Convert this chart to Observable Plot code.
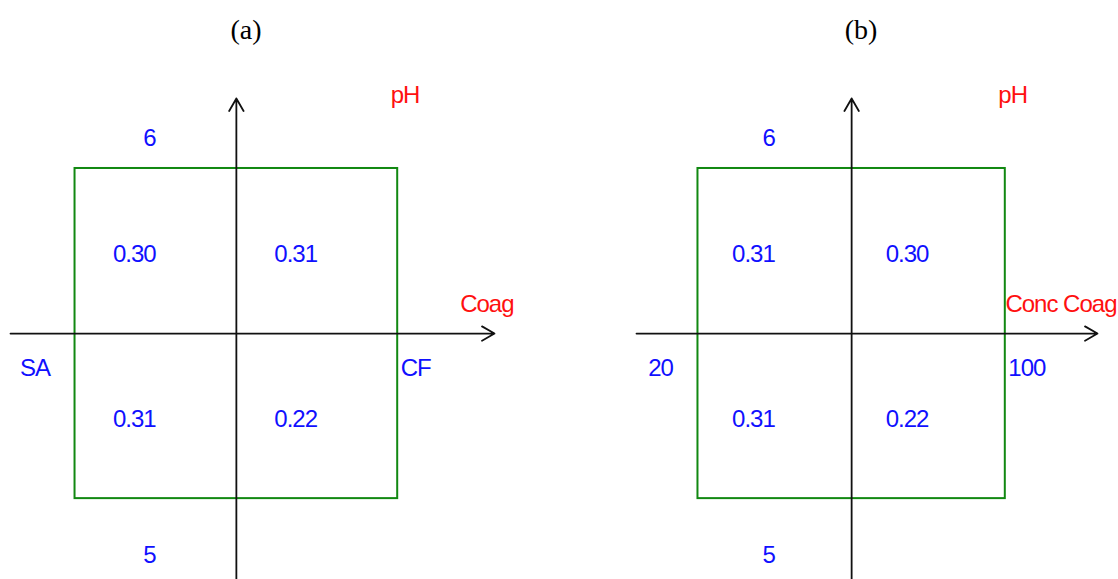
<!DOCTYPE html>
<html>
<head>
<meta charset="utf-8">
<script src="https://cdn.jsdelivr.net/npm/d3@7"></script>
<script src="https://cdn.jsdelivr.net/npm/@observablehq/plot@0.6"></script>
<style>
  html, body { margin: 0; padding: 0; background: #fff; }
  #root { position: relative; width: 1118px; height: 579px; overflow: hidden; }
  .panel { position: absolute; top: 0; width: 559px; height: 579px; }
  .title { position: absolute; top: 13px; width: 120px; height: 34px; line-height: 34px;
           text-align: center; font-family: "Liberation Serif", "Times New Roman", serif;
           font-size: 28px; color: #000; }
  .panel svg { position: absolute; top: 60px; left: 0; overflow: visible; }
</style>
</head>
<body>
<div id="root"></div>
<script>
// ---- data ----
const panelTitles = ["(a)", "(b)"];
const xFactorNames = ["Coag", "Conc Coag"];
const yFactorName = "pH";
const xLowLabels = ["SA", "20"];
const xHighLabels = ["CF", "100"];
const yLowLabel = "5";
const yHighLabel = "6";
const codedLevels = [-1, 1];
const cellXLevel = [-1, 1, -1, 1];
const cellYLevel = [1, 1, -1, -1];
const valuesA = [0.30, 0.31, 0.31, 0.22];
const valuesB = [0.31, 0.30, 0.31, 0.22];
const panelValues = [valuesA, valuesB];

// ---- layout ----
const layouts = [
  {left: 0,   marginLeft: 10, marginRight: 65, titleCenter: 246},
  {left: 559, marginLeft: 77, marginRight: 21, titleCenter: 861}
];
const xDomain = [-1.4, 1.6];
const yDomain = [-1.49, 1.424];
const smallFont = '"Liberation Sans", Arial, sans-serif';
const blue = "#1010ff";
const red = "#ff1010";

const root = document.getElementById("root");

panelTitles.forEach((title, i) => {
  const L = layouts[i];
  const panel = document.createElement("div");
  panel.className = "panel";
  panel.style.left = L.left + "px";

  const t = document.createElement("div");
  t.className = "title";
  t.textContent = title;
  t.style.left = (L.titleCenter - L.left - 60) + "px";
  panel.appendChild(t);

  const cells = panelValues[i].map((v, k) => ({xl: cellXLevel[k], yl: cellYLevel[k], v}));
  const axes = [
    {x1: xDomain[0], y1: 0, x2: xDomain[1], y2: 0},
    {x1: 0, y1: yDomain[0], x2: 0, y2: yDomain[1]}
  ];
  const box = [{x1: codedLevels[0], x2: codedLevels[1], y1: codedLevels[0], y2: codedLevels[1]}];

  const chart = Plot.plot({
    width: 559,
    height: 519,
    marginLeft: L.marginLeft,
    marginRight: L.marginRight,
    marginTop: 38,
    marginBottom: 0,
    x: {domain: xDomain, axis: null},
    y: {domain: yDomain, axis: null},
    style: {fontFamily: smallFont, fontSize: "24px", letterSpacing: "-1px", background: "transparent", overflow: "visible"},
    marks: [
      Plot.rect(box, {x1: "x1", x2: "x2", y1: "y1", y2: "y2", fill: "none", stroke: "#118811", strokeWidth: 2}),
      Plot.arrow(axes, {x1: "x1", y1: "y1", x2: "x2", y2: "y2", stroke: "#111", strokeWidth: 1.8, headLength: 12, headAngle: 60}),
      // cell responses
      Plot.text(cells, {x: d => d.xl * 0.5, y: d => d.yl * 0.5, text: d => d.v.toFixed(2), textAnchor: "end", dy: 3, fill: blue}),
      // y factor level labels
      Plot.text([yHighLabel], {x: -0.5, y: codedLevels[1], text: d => d, textAnchor: "end", dy: -30, fill: blue}),
      Plot.text([yLowLabel], {x: -0.5, y: codedLevels[0], text: d => d, textAnchor: "end", dy: 57, fill: blue}),
      // x factor level labels
      Plot.text([xLowLabels[i]], {x: codedLevels[0], y: 0, text: d => d, textAnchor: "end", dx: -25, dy: 35, fill: blue}),
      Plot.text([xHighLabels[i]], {x: codedLevels[1], y: 0, text: d => d, textAnchor: "start", dx: 3, dy: 35, fill: blue}),
      // factor names
      Plot.text([yFactorName], {x: codedLevels[1], y: codedLevels[1], text: d => d, textAnchor: "start", dx: -7, dy: -73, fill: red}),
      Plot.text([xFactorNames[i]], {x: xDomain[1], y: 0, text: d => d, textAnchor: "end", dx: 19, dy: -29, fill: red})
    ]
  });
  panel.appendChild(chart);
  root.appendChild(panel);
});
</script>
</body>
</html>
